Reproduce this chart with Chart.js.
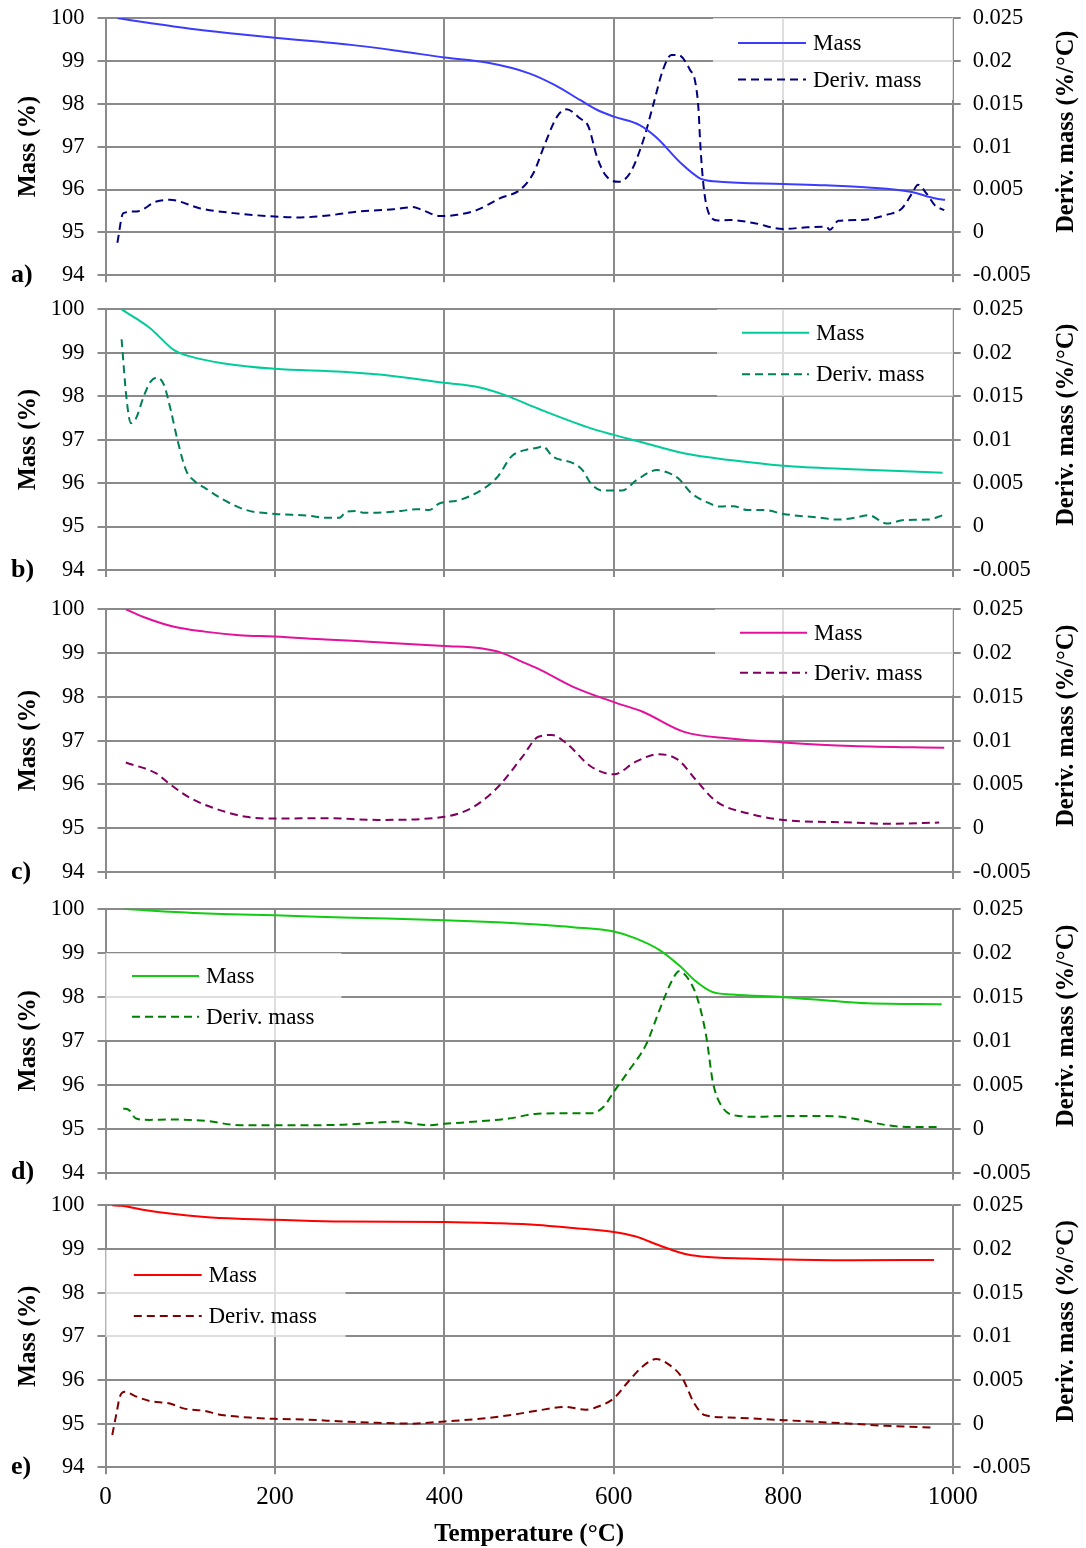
<!DOCTYPE html>
<html>
<head>
<meta charset="utf-8">
<title>TGA / DTG curves</title>
<script src="https://cdn.jsdelivr.net/npm/chart.js@4.4.1/dist/chart.umd.min.js"></script>
<style>
  body { margin: 0; background: #fff; }
  #wrap { position: relative; width: 1086px; height: 1548px; background: #fff; }
  .panel { position: absolute; left: 0; width: 1086px; }
</style>
</head>
<body>
<div id="wrap">
  <div class="panel" style="top:0px;height:292px"><canvas id="chartA"></canvas></div>
  <div class="panel" style="top:292px;height:298px"><canvas id="chartB"></canvas></div>
  <div class="panel" style="top:590px;height:300px"><canvas id="chartC"></canvas></div>
  <div class="panel" style="top:890px;height:300px"><canvas id="chartD"></canvas></div>
  <div class="panel" style="top:1190px;height:358px"><canvas id="chartE"></canvas></div>
</div>
<script>
// axis ticks
const tempTicks = [0, 200, 400, 600, 800, 1000];
const massTicks = [94, 95, 96, 97, 98, 99, 100];
const derivTicks = [-0.005, 0, 0.005, 0.01, 0.015, 0.02, 0.025];

// a)
const tempMassA = [14, 30, 50, 100, 150, 200, 250, 300, 350, 400, 450, 500, 530, 560, 580, 600, 630, 650, 680, 700, 706, 725, 800, 850, 900, 950, 980, 991];
const massA = [100, 99.95, 99.89, 99.75, 99.64, 99.54, 99.45, 99.35, 99.22, 99.08, 98.96, 98.71, 98.44, 98.09, 97.86, 97.70, 97.51, 97.22, 96.6, 96.28, 96.23, 96.18, 96.13, 96.10, 96.05, 95.95, 95.79, 95.76];
const tempDerivA = [14, 21, 37, 60, 76, 112, 151, 200, 230, 269, 300, 340, 363, 373, 395, 415, 438, 466, 489, 505, 519, 533, 544, 560, 570, 580, 590, 605, 619, 635, 647, 658, 668, 676, 690, 696, 700, 702, 706, 712, 723, 737, 765, 800, 828, 851, 855, 865, 891, 922, 940, 952, 959, 969, 979, 990];
const derivA = [-0.0012, 0.00225, 0.00245, 0.0036, 0.0038, 0.0028, 0.00225, 0.00185, 0.00175, 0.00205, 0.00245, 0.0027, 0.00295, 0.00265, 0.0019, 0.00205, 0.0026, 0.004, 0.00495, 0.0069, 0.0104, 0.0135, 0.01435, 0.0133, 0.01235, 0.00885, 0.0067, 0.0059, 0.0069, 0.0108, 0.01505, 0.01895, 0.0207, 0.0207, 0.01895, 0.0176, 0.0143, 0.0104, 0.00535, 0.00225, 0.0014, 0.00145, 0.0011, 0.0004, 0.0006, 0.00065, 0.0003, 0.00135, 0.00145, 0.00205, 0.0028, 0.00455, 0.00555, 0.00455, 0.00315, 0.0026];

// b)
const tempMassB = [19, 36, 53, 81, 101, 138, 200, 280, 341, 400, 442, 471, 511, 573, 600, 631, 684, 737, 800, 881, 988];
const massB = [100, 99.79, 99.56, 99.06, 98.91, 98.76, 98.63, 98.56, 98.46, 98.31, 98.20, 98.03, 97.71, 97.26, 97.11, 96.95, 96.68, 96.53, 96.40, 96.32, 96.24];
const tempDerivB = [19, 25, 30, 36, 45, 53, 61, 69, 77, 85, 95, 106, 118, 138, 166, 200, 240, 260, 276, 284, 296, 304, 321, 349, 367, 382, 394, 418, 447, 463, 479, 495, 511, 516, 528, 553, 563, 573, 586, 610, 627, 651, 664, 676, 692, 709, 725, 741, 758, 778, 800, 840, 865, 881, 901, 922, 943, 971, 988];
const derivB = [0.02155, 0.01455, 0.0119, 0.01245, 0.01495, 0.01665, 0.01715, 0.0163, 0.0134, 0.00995, 0.0065, 0.00515, 0.0044, 0.00315, 0.0019, 0.00145, 0.00125, 0.001, 0.001, 0.0017, 0.0018, 0.0016, 0.0016, 0.0018, 0.002, 0.0019, 0.00265, 0.00305, 0.0044, 0.00575, 0.00805, 0.0088, 0.0091, 0.00925, 0.00805, 0.00725, 0.0065, 0.00495, 0.00415, 0.00415, 0.00535, 0.0065, 0.0062, 0.00555, 0.0038, 0.00285, 0.0023, 0.00235, 0.0019, 0.0019, 0.00145, 0.00105, 0.0008, 0.00095, 0.0013, 0.00035, 0.00075, 0.0008, 0.0013];

// c)
const tempMassC = [24, 44, 81, 117, 158, 200, 260, 321, 400, 443, 467, 492, 511, 552, 600, 634, 683, 737, 800, 881, 990];
const massC = [100, 99.83, 99.60, 99.49, 99.41, 99.38, 99.31, 99.25, 99.16, 99.11, 99.01, 98.80, 98.64, 98.23, 97.88, 97.66, 97.20, 97.05, 96.96, 96.88, 96.84];
const tempDerivC = [24, 60, 77, 101, 134, 166, 200, 260, 321, 400, 431, 451, 467, 492, 511, 527, 544, 573, 600, 626, 653, 676, 697, 721, 758, 800, 881, 923, 984];
const derivC = [0.0075, 0.00625, 0.00495, 0.0034, 0.0021, 0.0013, 0.0011, 0.00115, 0.00095, 0.0013, 0.00225, 0.0036, 0.0051, 0.00815, 0.01045, 0.01065, 0.0097, 0.00705, 0.00615, 0.0076, 0.00845, 0.0078, 0.0055, 0.00305, 0.0017, 0.00095, 0.00065, 0.0005, 0.00065];

// d)
const tempMassD = [21, 76, 137, 200, 280, 400, 463, 510, 552, 600, 625, 654, 679, 695, 716, 740, 800, 860, 900, 987];
const massD = [100, 99.93, 99.88, 99.85, 99.80, 99.74, 99.69, 99.64, 99.58, 99.48, 99.33, 99.06, 98.68, 98.38, 98.11, 98.05, 97.99, 97.90, 97.85, 97.83];
const tempDerivD = [21, 28, 36, 52, 76, 118, 158, 200, 239, 280, 320, 341, 382, 400, 443, 476, 510, 543, 573, 588, 600, 617, 638, 654, 669, 677, 687, 699, 709, 717, 727, 748, 771, 800, 840, 868, 889, 922, 946, 987];
const derivD = [0.0023, 0.0021, 0.00115, 0.001, 0.00105, 0.0009, 0.0004, 0.0004, 0.0004, 0.00045, 0.0007, 0.0008, 0.0004, 0.00055, 0.00085, 0.00115, 0.0017, 0.00175, 0.00175, 0.0025, 0.0042, 0.0065, 0.00955, 0.0135, 0.0169, 0.0179, 0.01715, 0.0147, 0.01055, 0.00525, 0.0026, 0.00145, 0.00135, 0.00145, 0.00145, 0.00135, 0.00105, 0.0004, 0.0002, 0.0002];

// e)
const tempMassE = [8, 19, 44, 76, 117, 157, 200, 280, 400, 462, 510, 552, 600, 625, 654, 683, 703, 757, 800, 880, 978];
const massE = [100, 99.99, 99.90, 99.81, 99.73, 99.69, 99.67, 99.63, 99.62, 99.59, 99.55, 99.48, 99.39, 99.29, 99.08, 98.89, 98.83, 98.78, 98.76, 98.74, 98.75];
const tempDerivE = [8, 13, 17, 23, 35, 52, 76, 92, 117, 137, 178, 200, 239, 280, 320, 361, 400, 442, 483, 510, 543, 567, 584, 600, 617, 634, 650, 666, 681, 695, 708, 736, 800, 839, 880, 921, 978];
const derivE = [-0.0013, 0.0012, 0.0031, 0.00365, 0.00315, 0.0026, 0.0023, 0.00175, 0.00145, 0.001, 0.00065, 0.00055, 0.00045, 0.00025, 0.0001, 0, 0.00025, 0.00055, 0.00105, 0.0015, 0.0019, 0.0016, 0.00205, 0.0029, 0.0048, 0.00655, 0.0074, 0.0067, 0.0052, 0.0023, 0.00095, 0.0007, 0.0004, 0.0002, 0, -0.00025, -0.00045];

const FONT = "'Times New Roman', 'Liberation Serif', serif";
const GRID = '#8a8a8a';
const PLOT_LEFT = 105.5;
const PLOT_RIGHT = 952.7;

Chart.defaults.font.family = FONT;
Chart.defaults.color = '#000';

function pairs(xs, ys) {
  return xs.map((x, i) => ({ x: x, y: ys[i] }));
}

// legend, axis titles and panel letter
const panelDecor = {
  id: 'panelDecor',
  beforeDatasetsDraw(chart, args, opts) {
    const ctx = chart.ctx;
    const area = chart.chartArea;
    const lg = opts.legend;
    ctx.save();
    ctx.fillStyle = 'rgba(255,255,255,0.72)';
    ctx.fillRect(area.left + lg.box[0], area.top + lg.box[1], lg.box[2], lg.box[3]);
    chart.data.datasets.forEach(function (ds, i) {
      const y = area.top + lg.rows[i];
      ctx.beginPath();
      ctx.strokeStyle = ds.borderColor;
      ctx.lineWidth = ds.borderWidth;
      ctx.setLineDash(ds.borderDash || []);
      ctx.moveTo(area.left + lg.line[0], y);
      ctx.lineTo(area.left + lg.line[1], y);
      ctx.stroke();
      ctx.setLineDash([]);
      ctx.fillStyle = '#000';
      ctx.font = '23px ' + FONT;
      ctx.textAlign = 'left';
      ctx.textBaseline = 'middle';
      ctx.fillText(ds.label, area.left + lg.text, y + 1);
    });
    ctx.restore();
  },
  afterDraw(chart, args, opts) {
    const ctx = chart.ctx;
    const area = chart.chartArea;
    const mid = (area.top + area.bottom) / 2;
    ctx.save();
    ctx.fillStyle = '#000';
    ctx.textAlign = 'center';
    ctx.textBaseline = 'middle';
    ctx.font = 'bold 24.5px ' + FONT;

    ctx.save();
    ctx.translate(29, mid);
    ctx.rotate(-Math.PI / 2);
    ctx.fillText('Mass (%)', 0, 0);
    ctx.restore();

    ctx.save();
    ctx.translate(1067, mid - 15);
    ctx.rotate(-Math.PI / 2);
    ctx.fillText('Deriv. mass (%/°C)', 0, 0);
    ctx.restore();

    ctx.font = 'bold 26px ' + FONT;
    ctx.textAlign = 'left';
    ctx.fillText(opts.letter, 11, area.bottom);

    if (opts.xTitle) {
      ctx.font = 'bold 25px ' + FONT;
      ctx.textAlign = 'center';
      ctx.fillText(opts.xTitle, (area.left + area.right) / 2, area.bottom + 67);
    }
    ctx.restore();
  }
};

function buildPanel(id, p) {
  const ctx = document.getElementById(id).getContext('2d');
  return new Chart(ctx, {
    type: 'line',
    data: {
      datasets: [{
        label: 'Mass',
        data: pairs(p.tMass, p.mass),
        yAxisID: 'y',
        borderColor: p.massColor,
        borderWidth: 2,
        pointRadius: 0,
        cubicInterpolationMode: 'monotone',
        fill: false
      }, {
        label: 'Deriv. mass',
        data: pairs(p.tDeriv, p.deriv),
        yAxisID: 'y1',
        borderColor: p.derivColor,
        borderWidth: 2,
        borderDash: [8, 5],
        pointRadius: 0,
        cubicInterpolationMode: 'monotone',
        fill: false
      }]
    },
    options: {
      responsive: true,
      maintainAspectRatio: false,
      animation: false,
      events: [],
      layout: {
        padding: { left: 0, right: 0, top: p.padTop, bottom: p.padBottom }
      },
      plugins: {
        legend: { display: false },
        tooltip: { enabled: false },
        panelDecor: { legend: p.legend, letter: p.letter, xTitle: p.xTitle }
      },
      scales: {
        x: {
          type: 'linear',
          min: 0,
          max: 1000,
          border: { display: false },
          grid: { color: GRID, lineWidth: 2, tickLength: 7, tickColor: GRID },
          afterBuildTicks: function (scale) {
            scale.ticks = tempTicks.map(v => ({ value: v }));
          },
          ticks: {
            display: p.showX,
            padding: 8,
            font: { size: 25 },
            maxRotation: 0,
            callback: v => String(v)
          },
          afterFit: function (scale) {
            scale.height = p.xHeight;
            scale.paddingLeft = 0;
            scale.paddingRight = 0;
          }
        },
        y: {
          position: 'left',
          min: 94,
          max: 100,
          border: { display: false },
          grid: { color: GRID, lineWidth: 2, tickLength: 8, tickColor: GRID },
          afterBuildTicks: function (scale) {
            scale.ticks = massTicks.map(v => ({ value: v }));
          },
          ticks: { padding: 13, font: { size: 22.5 }, callback: v => String(v) },
          afterFit: function (scale) {
            scale.width = PLOT_LEFT;
            scale.paddingTop = 0;
            scale.paddingBottom = 0;
          }
        },
        y1: {
          position: 'right',
          min: -0.005,
          max: 0.025,
          border: { display: false },
          grid: { drawOnChartArea: false, color: GRID, lineWidth: 2, tickLength: 8, tickColor: GRID },
          afterBuildTicks: function (scale) {
            scale.ticks = derivTicks.map(v => ({ value: v }));
          },
          ticks: { padding: 12, font: { size: 22.5 }, callback: v => String(v) },
          afterFit: function (scale) {
            scale.width = 1086 - PLOT_RIGHT;
            scale.paddingTop = 0;
            scale.paddingBottom = 0;
          }
        }
      }
    },
    plugins: [panelDecor]
  });
}

const legendRight = {
  a: { box: [607.5, 0, 240, 82], line: [632.5, 700.5], text: 707.5, rows: [25, 61.5] },
  b: { box: [611.5, 0, 236, 87], line: [636.5, 703.5], text: 710.5, rows: [23.4, 65] },
  c: { box: [609.5, 0, 238, 86], line: [634.5, 701.5], text: 708.5, rows: [23.4, 63.4] }
};
const legendLeft = {
  d: { box: [0, 44.3, 236, 87], line: [26.5, 93.5], text: 100.5, rows: [67.3, 108] },
  e: { box: [0, 44.7, 240, 87], line: [28.3, 96.2], text: 103, rows: [69.7, 110.7] }
};

buildPanel('chartA', {
  tMass: tempMassA, mass: massA, tDeriv: tempDerivA, deriv: derivA,
  massColor: '#3c3cff', derivColor: '#000080',
  padTop: 18, padBottom: 8.7, xHeight: 8, showX: false,
  legend: legendRight.a, letter: 'a)'
});
buildPanel('chartB', {
  tMass: tempMassB, mass: massB, tDeriv: tempDerivB, deriv: derivB,
  massColor: '#00cc99', derivColor: '#00805a',
  padTop: 17.3, padBottom: 12, xHeight: 8, showX: false,
  legend: legendRight.b, letter: 'b)'
});
buildPanel('chartC', {
  tMass: tempMassC, mass: massC, tDeriv: tempDerivC, deriv: derivC,
  massColor: '#e3119c', derivColor: '#800060',
  padTop: 19.3, padBottom: 10, xHeight: 8, showX: false,
  legend: legendRight.c, letter: 'c)'
});
buildPanel('chartD', {
  tMass: tempMassD, mass: massD, tDeriv: tempDerivD, deriv: derivD,
  massColor: '#11cc11', derivColor: '#008000',
  padTop: 18.7, padBottom: 9.3, xHeight: 8, showX: false,
  legend: legendLeft.d, letter: 'd)'
});
buildPanel('chartE', {
  tMass: tempMassE, mass: massE, tDeriv: tempDerivE, deriv: derivE,
  massColor: '#ff0000', derivColor: '#800000',
  padTop: 15.3, padBottom: 20.7, xHeight: 60, showX: true,
  legend: legendLeft.e, letter: 'e)', xTitle: 'Temperature (°C)'
});
</script>
</body>
</html>
